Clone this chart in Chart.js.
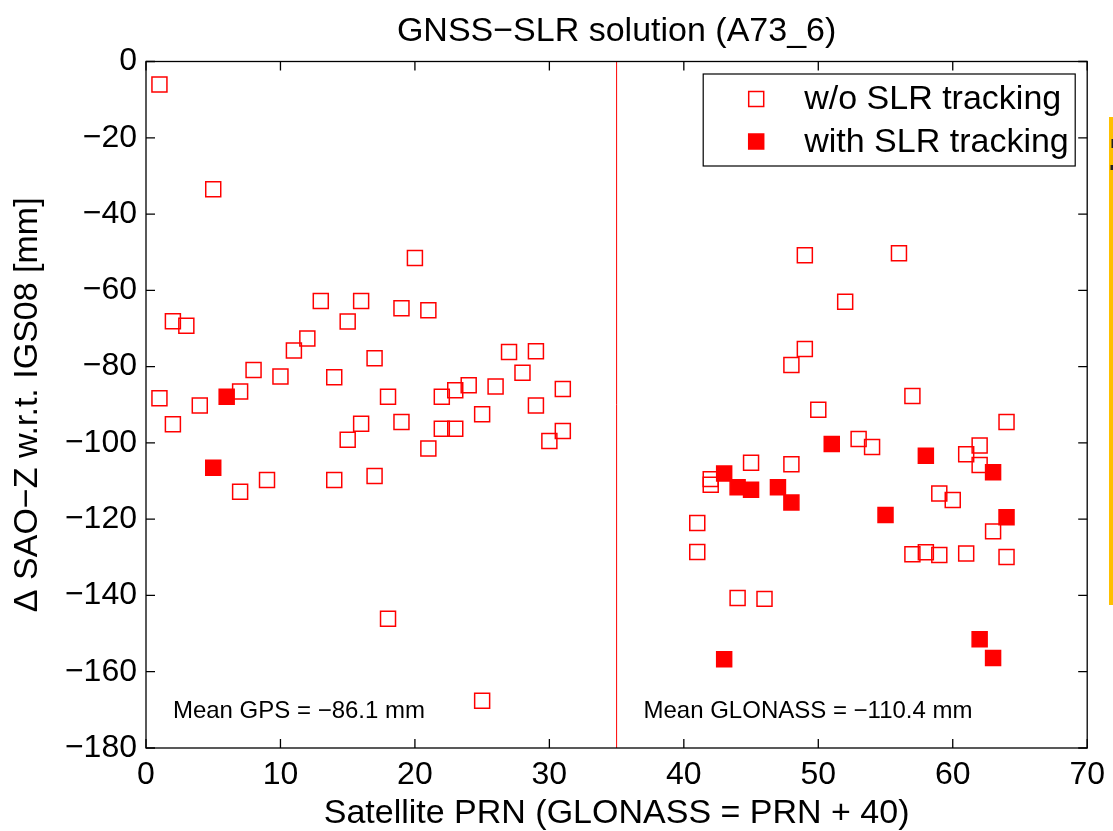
<!DOCTYPE html>
<html>
<head>
<meta charset="utf-8">
<script src="https://cdn.jsdelivr.net/npm/chart.js@4.4.1/dist/chart.umd.min.js"></script>
<style>
html,body{margin:0;padding:0;background:#fff;}
canvas{display:block;}
</style>
</head>
<body>
<canvas id="c" width="1113" height="831"></canvas>
<script>
// ---- text ----
const titleText = 'GNSS\u2212SLR solution (A73_6)';
const xTitle = 'Satellite PRN (GLONASS = PRN + 40)';
const yTitle = '\u0394 SAO\u2212Z w.r.t. IGS08 [mm]';
const seriesNames = ['w/o SLR tracking', 'with SLR tracking'];
const meanLabels = ['Mean GPS = \u221286.1 mm', 'Mean GLONASS = \u2212110.4 mm'];
const meanLabelX = [2, 37];
const meanLabelY = [-170.5, -170.5];

// ---- axes ----
const xRange = [0, 70];
const xStep = 10;
const yRange = [-180, 0];
const yStep = 20;
const separatorPRN = 35;

// ---- data: without SLR tracking (open squares) ----
const woPRN = [
  1, 1, 2, 2, 3, 4, 5, 7, 7, 8, 9, 10, 11, 12, 13, 14, 14, 15, 15, 16, 16, 17, 17, 18, 18,
  19, 19, 20, 21, 21, 22, 22, 23, 23, 24, 25, 25, 26, 27, 28, 29, 29, 30, 31, 31,
  41, 41, 42, 42, 44, 45, 46, 48, 48, 49, 49, 50, 52, 53, 54, 56, 57, 57, 58, 59, 59,
  60, 61, 61, 62, 62, 63, 64, 64
];
const woDelta = [
  -6.0, -88.3, -68.1, -95.1, -69.3, -90.2, -33.5, -86.5, -112.8, -80.9, -109.7, -82.6, -75.8, -72.6, -62.8, -82.8, -109.7, -68.2, -99.2, -62.8, -95.0, -77.8, -108.7, -87.9, -146.1,
  -64.7, -94.5, -51.5, -65.2, -101.5, -87.9, -96.3, -86.2, -96.3, -84.9, -92.5, -167.6, -85.2, -76.2, -81.6, -76.0, -90.2, -99.5, -85.9, -96.9,
  -121.0, -128.6, -109.5, -111.0, -140.7, -105.2, -140.9, -79.6, -105.6, -50.8, -75.4, -91.3, -63.0, -99.0, -101.1, -50.3, -87.7, -129.2, -128.7, -113.3, -129.4,
  -115.0, -103.0, -129.0, -100.7, -105.8, -123.2, -94.5, -129.9
];

// ---- data: with SLR tracking (filled squares) ----
const withPRN = [5, 6, 43, 43, 44, 45, 47, 48, 51, 55, 58, 62, 63, 63, 64];
const withDelta = [-106.5, -87.9, -108.0, -156.7, -111.6, -112.3, -111.6, -115.6, -100.3, -118.9, -103.4, -151.5, -107.7, -156.4, -119.5];

const FONT = "'Liberation Sans', Arial, Helvetica, sans-serif";
const RED = '#ff0000';
const fmt = v => String(v).replace('-', '\u2212');

const toPts = (xs, ys) => xs.map((x, i) => ({x: x, y: ys[i]}));

const decorPlugin = {
  id: 'decor',
  afterDraw(chart) {
    const {ctx, chartArea: a, scales: {x, y}} = chart;
    ctx.save();
    // axes box
    ctx.strokeStyle = '#000';
    ctx.lineWidth = 1.3;
    ctx.strokeRect(a.left, a.top, a.right - a.left, a.bottom - a.top);
    // inward ticks on all sides
    const tl = 9;
    ctx.beginPath();
    x.ticks.forEach(t => {
      const px = x.getPixelForValue(t.value);
      ctx.moveTo(px, a.bottom); ctx.lineTo(px, a.bottom - tl);
      ctx.moveTo(px, a.top); ctx.lineTo(px, a.top + tl);
    });
    y.ticks.forEach(t => {
      const py = y.getPixelForValue(t.value);
      ctx.moveTo(a.left, py); ctx.lineTo(a.left + tl, py);
      ctx.moveTo(a.right, py); ctx.lineTo(a.right - tl, py);
    });
    ctx.stroke();

    // mean annotations
    ctx.fillStyle = '#000';
    ctx.font = '24px ' + FONT;
    ctx.textAlign = 'left';
    ctx.textBaseline = 'middle';
    meanLabels.forEach((s, i) => {
      ctx.fillText(s, x.getPixelForValue(meanLabelX[i]), y.getPixelForValue(meanLabelY[i]));
    });

    // legend box
    const lw = 372, lh = 92;
    const lx = a.right - 12 - lw, ly = a.top + 12.5;
    ctx.fillStyle = '#fff';
    ctx.fillRect(lx, ly, lw, lh);
    ctx.strokeStyle = '#000';
    ctx.lineWidth = 1.2;
    ctx.strokeRect(lx, ly, lw, lh);
    const rows = [ly + 25, ly + 67.5];
    const s = 15;
    chart.data.datasets.slice(0, 2).forEach((ds, i) => {
      const mx = lx + 53, my = rows[i];
      ctx.lineWidth = 1.5;
      ctx.strokeStyle = ds.borderColor;
      if (ds.backgroundColor !== 'rgba(0,0,0,0)') {
        ctx.fillStyle = ds.backgroundColor;
        ctx.fillRect(mx - s / 2, my - s / 2, s, s);
      }
      ctx.strokeRect(mx - s / 2, my - s / 2, s, s);
      ctx.fillStyle = '#000';
      ctx.font = '34px ' + FONT;
      ctx.textAlign = 'left';
      ctx.textBaseline = 'middle';
      ctx.fillText(ds.label, lx + 101, my + 1);
    });

    // cropped neighbouring-figure edge at the far right
    ctx.fillStyle = '#ffc000';
    ctx.fillRect(1109, 117, 4, 488);
    ctx.fillStyle = '#222';
    ctx.fillRect(1111.5, 139, 1.5, 9);
    ctx.fillRect(1110.5, 165, 2.5, 5);
    ctx.restore();
  }
};

new Chart(document.getElementById('c'), {
  type: 'scatter',
  data: {
    datasets: [
      {
        label: seriesNames[0],
        data: toPts(woPRN, woDelta),
        pointStyle: 'rect',
        pointRadius: 10.6,
        pointHoverRadius: 10.6,
        borderWidth: 1.5,
        borderColor: RED,
        backgroundColor: 'rgba(0,0,0,0)',
        order: 2
      },
      {
        label: seriesNames[1],
        data: toPts(withPRN, withDelta),
        pointStyle: 'rect',
        pointRadius: 10.6,
        pointHoverRadius: 10.6,
        borderWidth: 1.5,
        borderColor: RED,
        backgroundColor: RED,
        order: 1
      },
      {
        label: 'separator',
        type: 'line',
        data: [{x: separatorPRN, y: yRange[0]}, {x: separatorPRN, y: yRange[1]}],
        showLine: true,
        pointRadius: 0,
        borderColor: RED,
        borderWidth: 1,
        fill: false,
        order: 3
      }
    ]
  },
  options: {
    responsive: false,
    animation: false,
    devicePixelRatio: 1,
    layout: {padding: {left: 0, top: 0, bottom: 0, right: -3}},
    plugins: {
      legend: {display: false},
      tooltip: {enabled: false},
      title: {
        display: true,
        fullSize: false,
        text: titleText,
        color: '#000',
        font: {family: FONT, size: 34, weight: 'normal', lineHeight: 1.2},
        padding: {top: 11, bottom: 9.7}
      }
    },
    scales: {
      x: {
        type: 'linear',
        position: 'bottom',
        min: xRange[0],
        max: xRange[1],
        ticks: {stepSize: xStep, color: '#000', font: {family: FONT, size: 32}, padding: 8, maxRotation: 0, autoSkip: false, callback: fmt},
        grid: {display: false, drawTicks: false},
        border: {display: false},
        title: {display: true, text: xTitle, color: '#000', font: {family: FONT, size: 34, lineHeight: 1}, padding: {top: 0, bottom: 0}},
        afterFit(s) { s.height = 83; }
      },
      y: {
        type: 'linear',
        position: 'left',
        min: yRange[0],
        max: yRange[1],
        ticks: {stepSize: yStep, color: '#000', font: {family: FONT, size: 32}, padding: 9, callback: fmt},
        grid: {display: false, drawTicks: false},
        border: {display: false},
        title: {display: true, text: yTitle, color: '#000', font: {family: FONT, size: 34, lineHeight: 1}, padding: {top: 11, bottom: 0}},
        afterFit(s) { s.width = 146; }
      },
      yRight: {
        type: 'linear',
        position: 'right',
        min: yRange[0],
        max: yRange[1],
        display: true,
        ticks: {display: false},
        grid: {display: false, drawTicks: false},
        border: {display: false},
        afterFit(s) { s.width = 19; }
      }
    }
  },
  plugins: [decorPlugin]
});
</script>
</body>
</html>
